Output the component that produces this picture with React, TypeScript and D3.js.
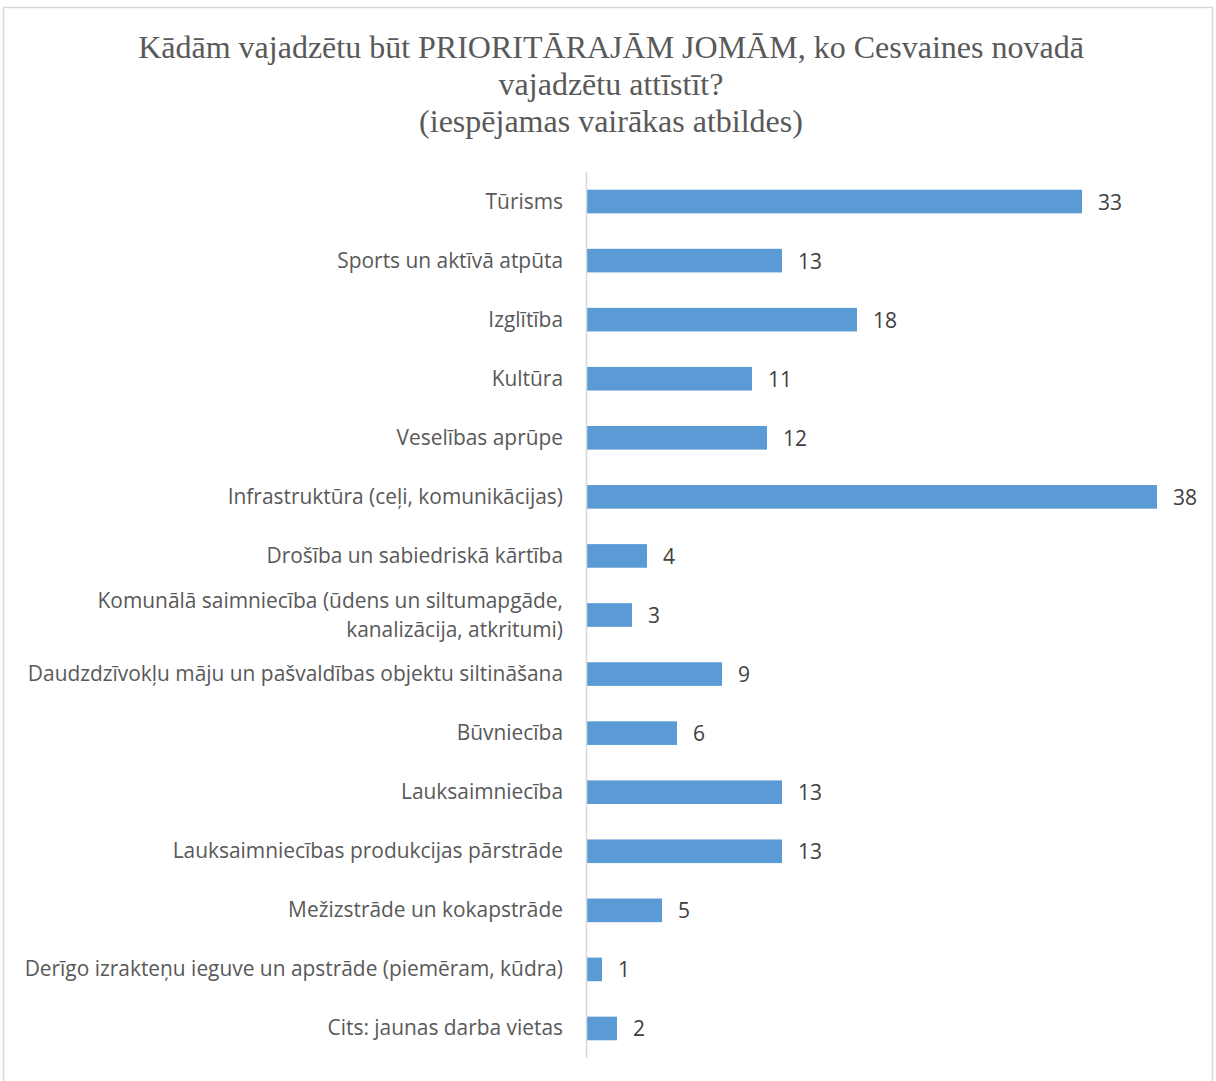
import React, { useEffect, useRef } from "react"
import * as d3 from "d3"

// categories top to bottom
const categories = [
  "Tūrisms",
  "Sports un aktīvā atpūta",
  "Izglītība",
  "Kultūra",
  "Veselības aprūpe",
  "Infrastruktūra (ceļi, komunikācijas)",
  "Drošība un sabiedriskā kārtība",
  "Komunālā saimniecība (ūdens un siltumapgāde,|kanalizācija, atkritumi)",
  "Daudzdzīvokļu māju un pašvaldības objektu siltināšana",
  "Būvniecība",
  "Lauksaimniecība",
  "Lauksaimniecības produkcijas pārstrāde",
  "Mežizstrāde un kokapstrāde",
  "Derīgo izrakteņu ieguve un apstrāde (piemēram, kūdra)",
  "Cits: jaunas darba vietas",
]
const values = [33, 13, 18, 11, 12, 38, 4, 3, 9, 6, 13, 13, 5, 1, 2]
const titleLines = [
  "Kādām vajadzētu būt PRIORITĀRAJĀM JOMĀM, ko Cesvaines novadā",
  "vajadzētu attīstīt?",
  "(iespējamas vairākas atbildes)",
]

const W = 1216
const H = 1081

const drawChart = (wrapper: SVGSVGElement) => {
  const svg = d3.select(wrapper)
  svg.selectAll("*").remove()

  // outer frame
  svg
    .append("rect")
    .attr("x", 3.5)
    .attr("y", 7.5)
    .attr("width", 1209)
    .attr("height", 1090)
    .attr("fill", "white")
    .attr("stroke", "#d9d9d9")
    .attr("stroke-width", 1.5)

  svg
    .selectAll("text.title")
    .data(titleLines)
    .enter()
    .append("text")
    .attr("class", "title")
    .attr("x", 611)
    .attr("y", (d, i) => 58 + i * 37)
    .attr("text-anchor", "middle")
    .style("font-family", "'Liberation Serif', 'Times New Roman', serif")
    .style("font-size", "32px")
    .style("fill", "#595959")
    .text(d => d)

  const x = d3.scaleLinear().domain([0, 38]).range([587, 1157])
  const y = d3
    .scaleBand()
    .domain(categories)
    .range([172, 1058])
    .paddingInner(0.6)
    .paddingOuter(0.3)

  svg
    .selectAll("rect.bar")
    .data(values)
    .enter()
    .append("rect")
    .attr("class", "bar")
    .attr("x", x(0))
    .attr("y", (d, i) => y(categories[i])!)
    .attr("width", d => x(d) - x(0))
    .attr("height", y.bandwidth())
    .attr("fill", "#5b9bd5")

  // axis line
  svg
    .append("line")
    .attr("x1", 586.5)
    .attr("x2", 586.5)
    .attr("y1", 172)
    .attr("y2", 1058)
    .attr("stroke", "#d9d9d9")
    .attr("stroke-width", 1.5)

  const font = "'Open Sans', 'Noto Sans', sans-serif"

  svg
    .selectAll("text.val")
    .data(values)
    .enter()
    .append("text")
    .attr("class", "val")
    .attr("x", d => x(d) + 16)
    .attr("y", (d, i) => y(categories[i])! + y.bandwidth() / 2)
    .attr("dy", "0.38em")
    .style("font-family", font)
    .style("font-size", "21px")
    .style("fill", "#404040")
    .text(d => d)

  const labels = svg
    .selectAll("text.cat")
    .data(categories)
    .enter()
    .append("text")
    .attr("class", "cat")
    .attr("x", 563)
    .attr("y", d => y(d)! + y.bandwidth() / 2)
    .attr("text-anchor", "end")
    .style("font-family", font)
    .style("font-size", "20.9px")
    .style("fill", "#595959")

  const lineH = 29
  labels.each(function (d) {
    const parts = d.split("|")
    const t = d3.select(this)
    parts.forEach((p, i) => {
      t.append("tspan")
        .attr("x", 563)
        .attr("dy", i === 0 ? -((parts.length - 1) * lineH) / 2 + 7 : lineH)
        .text(p)
    })
  })
}

export default function App() {
  const ref = useRef<SVGSVGElement>(null)
  useEffect(() => {
    if (ref.current) drawChart(ref.current)
  }, [])
  return (
    <svg
      ref={ref}
      width={W}
      height={H}
      style={{ position: "absolute", left: 0, top: 0 }}
    ></svg>
  )
}
